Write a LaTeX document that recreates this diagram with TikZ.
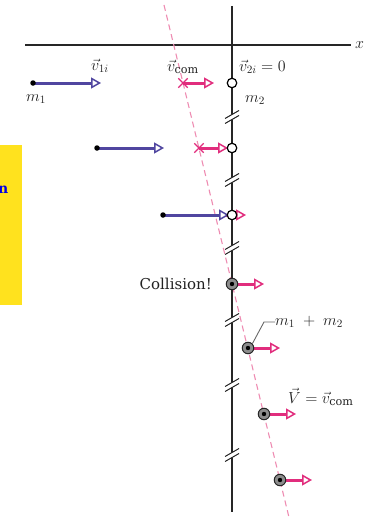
\RequirePackage{fix-cm}
\documentclass[tikz,border=0pt]{standalone}
\usepackage{fontspec}
\setmainfont{DejaVu Serif}
\usetikzlibrary{arrows.meta,shapes.misc}
\definecolor{vblue}{RGB}{80,70,160}
\definecolor{vpink}{RGB}{225,45,125}
\definecolor{dpink}{RGB}{238,140,178}
\definecolor{ybox}{RGB}{255,226,30}
\definecolor{txt}{RGB}{35,35,35}
\tikzset{
  vel/.style={line width=3pt,-{Triangle[length=10pt,width=11pt,fill=white,line width=1.5pt]}},
  bluevel/.style={vel,draw=vblue},
  pinkvel/.style={vel,draw=vpink},
  dotm/.style={circle,fill=black,inner sep=0pt,minimum size=5.5pt},
  m2circ/.style={circle,draw=black,fill=white,line width=1.2pt,inner sep=0pt,minimum size=9.5pt},
  merged/.style={circle,draw=black!85,fill=black!45,line width=1pt,inner sep=0pt,minimum size=11.5pt,
    path picture={\fill[black] (path picture bounding box.center) circle (2.2pt);}},
  comx/.style={cross out,draw=vpink,line width=1.3pt,inner sep=0pt,minimum size=8pt},
  lbl/.style={text=txt,font=\fontsize{16}{18}\selectfont,inner sep=0pt},
  axis/.style={line width=1.5pt,black!85},
  brk/.pic={
    \fill[white] (-2.5,-1.07)--(2.5,-3.93)--(2.5,1.07)--(-2.5,3.93)--cycle;
    \draw[line width=1pt,black!85] (-7,1.5)--(7,-6.5) (-7,6.5)--(7,-1.5);
  }
}
\begin{document}
\begin{tikzpicture}[x=1pt,y=-1pt]
\useasboundingbox (0,0) rectangle (371,519);
% yellow side box
\fill[ybox] (0,145) rectangle (22,305);
\node[anchor=east,inner sep=0pt,text=blue!90!black,font=\fontsize{14}{16}\selectfont\bfseries] (cut) at (8.5,190) {n};
% axes
\coordinate (xl) at (25,45); \coordinate (xr) at (351,45);
\coordinate (yt) at (232,6); \coordinate (yb) at (232,512);
\draw[axis] (xl) -- (xr);
\draw[axis] (yt) -- (yb);
\node[lbl,anchor=west] (xlab) at (355,45) {$x$};
% breaks
\foreach \yy in {117,180,248,320,385,455} \pic at (232,\yy) {brk};
% com dashed line
\coordinate (dtop) at (164,5); \coordinate (dbot) at (289.4,519);
\draw[dpink,line width=1.1pt,dash pattern=on 6pt off 4pt] (dtop) -- (dbot);
% coordinates of rows
\coordinate (b1) at (33,83);  \coordinate (b1t) at (101,83);
\coordinate (b2) at (97,148); \coordinate (b2t) at (164,148);
\coordinate (b3) at (163,215); \coordinate (b3t) at (229,215);
\coordinate (c1) at (183,83); \coordinate (c1t) at (214,83);
\coordinate (c2) at (199,148); \coordinate (c2t) at (228,148);
\coordinate (c3) at (215,215); \coordinate (c3t) at (246,215);
\coordinate (c4) at (232,284); \coordinate (c4t) at (264,284);
\coordinate (c5) at (248,348); \coordinate (c5t) at (280,348);
\coordinate (c6) at (264,414); \coordinate (c6t) at (296,414);
\coordinate (c7) at (280,480); \coordinate (c7t) at (312,480);
% pink arrows
\foreach \i in {1,...,7} \draw[pinkvel] (c\i) -- (c\i t);
% blue arrows
\foreach \i in {1,2,3} \draw[bluevel] (b\i) -- (b\i t);
% markers
\node[comx] (x1) at (c1) {};
\node[comx] (x2) at (c2) {};
\node[dotm] (m1a) at (b1) {};
\node[dotm] (m1b) at (b2) {};
\node[dotm] (m1c) at (b3) {};
\node[m2circ] (m2a) at (232,83) {};
\node[m2circ] (m2b) at (232,148) {};
\node[m2circ] (m2c) at (232,215) {};
\node[merged] (k4) at (c4) {};
\node[merged] (k5) at (c5) {};
\node[merged] (k6) at (c6) {};
\node[merged] (k7) at (c7) {};
% labels
\node[lbl] (lv1) at (100,66) {$\vec{v}_{1i}$};
\node[lbl] (lvc) at (183,67) {$\vec{v}_{\mathrm{com}}$};
\node[lbl,anchor=west] (lv2) at (239,67) {$\vec{v}_{2i}=0$};
\node[lbl] (lm1) at (36,99) {$m_1$};
\node[lbl,anchor=west] (lm2) at (245,100) {$m_2$};
\node[lbl,anchor=east,font=\fontsize{15}{17}\selectfont] (lcol) at (212,284) {Collision!};
\node[lbl,anchor=west] (lm12) at (275,322) {$m_1\;+\;m_2$};
\coordinate (ld) at (264,322);
\draw[black!60,line width=0.9pt] (k5.north east) -- (ld) -- (lm12.west);
\node[lbl,anchor=west] (lV) at (288,397) {$\vec{V}=\vec{v}_{\mathrm{com}}$};
\end{tikzpicture}
\end{document}
